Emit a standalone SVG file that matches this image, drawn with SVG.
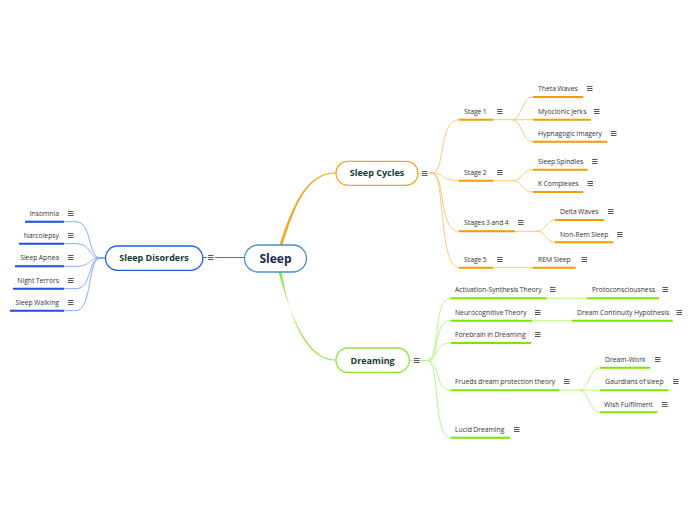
<svg xmlns="http://www.w3.org/2000/svg" xmlns:xlink="http://www.w3.org/1999/xlink" width="696" height="520" viewBox="0 0 696 520">
<style>
.bg{fill:#ffffff}
.t{font-family:"Open Sans","Noto Sans","Liberation Sans",sans-serif;font-size:6.8px;word-spacing:-0.4px;fill:#333333}
.mt{font-family:"Open Sans","Noto Sans","Liberation Sans",sans-serif;font-weight:bold;font-size:9px;fill:#163c33;text-anchor:middle}
.ct{font-family:"Open Sans","Noto Sans","Liberation Sans",sans-serif;font-weight:bold;font-size:12px;fill:#1b2a4e;text-anchor:middle}
.end{text-anchor:end}
.box{fill:#ffffff;stroke-width:1.3}
.ob{stroke:#f5a623}.gb{stroke:#8ee53f}.bb{stroke:#1f5ff0}.cb{stroke:#4a90d0}
.ou{stroke:#f59b00;stroke-width:2;fill:none}
.gu{stroke:#7ce600;stroke-width:2;fill:none}
.bu{stroke:#1d4fe0;stroke-width:2;fill:none}
.oc{stroke:#fcc97a;stroke-width:1;fill:none}
.gc{stroke:#b8f58a;stroke-width:1;fill:none}
.bc{stroke:#86a8ff;stroke-width:1;fill:none}
.ic{stroke:#444444;stroke-width:0.9;fill:none}
</style>
<defs>
<g id="menu"><path class="ic" d="M0 -2h5.5M0 0h5.5M0 2h5.5"/></g>
</defs>
<rect class="bg" x="0" y="0" width="696" height="520"/>
<g id="connectors">
<path d="M279.5 245 C294 200 308 172.6 336 172.6 L336 173.6 C309 173.6 296 201 282.5 245 Z" fill="#f5a623"/>
<path d="M278.5 272 C292 320 308 359.6 336 359.6 L336 360.6 C307 360.6 290 321 281.5 272 Z" fill="#8ee53f"/>
<path d="M245 257.5 H215 M203 257.5 H207" stroke="#3d6ff2" stroke-width="1" fill="none"/>
<path class="oc" d="M418 173.5 H421"/>
<path class="gc" d="M409 360.5 H413"/>
<path class="bc" d="M105 258 H100 C88 258 92 221.7 76 221.7 H64"/>
<path class="bc" d="M105 258 H100 C88 258 92 243.7 76 243.7 H64"/>
<path class="bc" d="M105 258 H100 C88 258 92 266.3 76 266.3 H64"/>
<path class="bc" d="M105 258 H100 C88 258 92 288.7 76 288.7 H64"/>
<path class="bc" d="M105 258 H100 C88 258 92 310.7 76 310.7 H64"/>
<path class="oc" d="M429 173 H432 C446 173 438 119.7 459 119.7"/>
<path class="oc" d="M429 173 H432 C446 173 440 180.7 459 180.7"/>
<path class="oc" d="M429 173 H432 C446 173 438 231.3 459 231.3"/>
<path class="oc" d="M429 173 H432 C446 173 438 267.7 459 267.7"/>
<path class="oc" d="M493 119.7 H512 C522 119.7 522 97 533 97"/>
<path class="oc" d="M512 119.7 H533"/>
<path class="oc" d="M512 119.7 C522 119.7 522 141.7 533 141.7"/>
<path class="oc" d="M493 180.7 H512 C522 180.7 522 169.7 533 169.7"/>
<path class="oc" d="M512 180.7 C522 180.7 522 192 533 192"/>
<path class="oc" d="M515 231.3 H537 C546 231.3 546 220 555 220"/>
<path class="oc" d="M537 231.3 C546 231.3 546 242.3 555 242.3"/>
<path class="oc" d="M493 267.7 H533"/>
<path class="gc" d="M420 360.5 H427 C441 360.5 432 298.3 450.7 298.3"/>
<path class="gc" d="M420 360.5 H427 C441 360.5 432 320.7 450.7 320.7"/>
<path class="gc" d="M420 360.5 H427 C441 360.5 432 343 450.7 343"/>
<path class="gc" d="M420 360.5 H427 C441 360.5 434 390.3 450.7 390.3"/>
<path class="gc" d="M420 360.5 H427 C441 360.5 432 437.7 450.7 437.7"/>
<path class="gc" d="M546.7 298.3 H586.7"/>
<path class="gc" d="M532 320.7 H572"/>
<path class="gc" d="M559.3 390.3 H579 C589 390.3 589 367.7 600 367.7"/>
<path class="gc" d="M579 390.3 H600"/>
<path class="gc" d="M579 390.3 C589 390.3 589 412.3 600 412.3"/>
</g>
<g id="sleep">
<rect class="box cb" x="244.5" y="245" width="62" height="27" rx="13.5"/>
<text class="ct" x="275.5" y="263">Sleep</text>
</g>
<g id="sleep-cycles">
<rect class="box ob" x="336" y="161.3" width="82" height="24" rx="12"/>
<text class="mt" x="377" y="176.3">Sleep Cycles</text>
<use href="#menu" xlink:href="#menu" x="422" y="173.5"/>
</g>
<g id="dreaming">
<rect class="box gb" x="336" y="348" width="73.3" height="24.5" rx="12"/>
<text class="mt" x="372.6" y="363.6">Dreaming</text>
<use href="#menu" xlink:href="#menu" x="414" y="360.5"/>
</g>
<g id="sleep-disorders">
<rect class="box bb" x="105.5" y="246" width="97.3" height="24.3" rx="12"/>
<text class="mt" x="154" y="261.3">Sleep Disorders</text>
<use href="#menu" xlink:href="#menu" x="208" y="257.5"/>
</g>
<g id="insomnia"><text class="t end" x="59" y="215.8">Insomnia</text><use href="#menu" xlink:href="#menu" x="68" y="213.5"/><path class="bu" d="M25 221.7 H64"/></g>
<g id="narcolepsy"><text class="t end" x="59" y="237.5">Narcolepsy</text><use href="#menu" xlink:href="#menu" x="68" y="235.5"/><path class="bu" d="M19 243.7 H64"/></g>
<g id="sleep-apnea"><text class="t end" x="59" y="259.8">Sleep Apnea</text><use href="#menu" xlink:href="#menu" x="68" y="257.5"/><path class="bu" d="M15 266.3 H64"/></g>
<g id="night-terrors"><text class="t end" x="59" y="282.8">Night Terrors</text><use href="#menu" xlink:href="#menu" x="68" y="280.5"/><path class="bu" d="M13 288.7 H64"/></g>
<g id="sleep-walking"><text class="t end" x="59" y="304.8">Sleep Walking</text><use href="#menu" xlink:href="#menu" x="68" y="302.5"/><path class="bu" d="M10 310.7 H64"/></g>
<g id="stage-1"><text class="t" x="464" y="114.2">Stage 1</text><use href="#menu" xlink:href="#menu" x="497" y="111.5"/><path class="ou" d="M459 119.7 H493"/></g>
<g id="theta-waves"><text class="t" x="538" y="90.8">Theta Waves</text><use href="#menu" xlink:href="#menu" x="587" y="88.5"/><path class="ou" d="M533 97 H583.3"/></g>
<g id="myoclonic-jerks"><text class="t" x="538" y="114.2">Myoclonic Jerks</text><use href="#menu" xlink:href="#menu" x="594" y="111.5"/><path class="ou" d="M533 119.7 H590.7"/></g>
<g id="hypnagogic-imagery"><text class="t" x="538" y="135.8">Hypnagogic Imagery</text><use href="#menu" xlink:href="#menu" x="611" y="133.5"/><path class="ou" d="M533 141.7 H607.3"/></g>
<g id="stage-2"><text class="t" x="464" y="175.2">Stage 2</text><use href="#menu" xlink:href="#menu" x="497" y="172.5"/><path class="ou" d="M459 180.7 H493"/></g>
<g id="sleep-spindles"><text class="t" x="538" y="163.8">Sleep Spindles</text><use href="#menu" xlink:href="#menu" x="592" y="161.5"/><path class="ou" d="M533 169.7 H587.7"/></g>
<g id="k-complexes"><text class="t" x="538" y="186.2">K Complexes</text><use href="#menu" xlink:href="#menu" x="587.5" y="183.5"/><path class="ou" d="M533 192 H583.3"/></g>
<g id="stages-3-4"><text class="t" x="464" y="225.2">Stages 3 and 4</text><use href="#menu" xlink:href="#menu" x="518" y="222.5"/><path class="ou" d="M459 231.3 H515"/></g>
<g id="delta-waves"><text class="t" x="560" y="214.2">Delta Waves</text><use href="#menu" xlink:href="#menu" x="608" y="211.5"/><path class="ou" d="M555 220 H604"/></g>
<g id="non-rem-sleep"><text class="t" x="560" y="236.8">Non-Rem Sleep</text><use href="#menu" xlink:href="#menu" x="617" y="234.5"/><path class="ou" d="M555 242.3 H613.3"/></g>
<g id="stage-5"><text class="t" x="464" y="262.2">Stage 5</text><use href="#menu" xlink:href="#menu" x="497" y="259.5"/><path class="ou" d="M459 267.7 H493"/></g>
<g id="rem-sleep"><text class="t" x="538" y="262.2">REM Sleep</text><use href="#menu" xlink:href="#menu" x="581.5" y="259.5"/><path class="ou" d="M533 267.7 H575.7"/></g>
<g id="activation-synthesis"><text class="t" x="455" y="292.2">Activation-Synthesis Theory</text><use href="#menu" xlink:href="#menu" x="550" y="289.5"/><path class="gu" d="M450.7 298.3 H546.7"/></g>
<g id="protoconsciousness"><text class="t" x="592" y="292.2">Protoconsciousness</text><use href="#menu" xlink:href="#menu" x="662.5" y="289.5"/><path class="gu" d="M586.7 298.3 H659"/></g>
<g id="neurocognitive"><text class="t" x="455" y="314.8">Neurocognitive Theory</text><use href="#menu" xlink:href="#menu" x="535" y="312.5"/><path class="gu" d="M450.7 320.7 H532"/></g>
<g id="dream-continuity"><text class="t" x="577" y="314.8">Dream Continuity Hypothesis</text><use href="#menu" xlink:href="#menu" x="676.5" y="312.5"/><path class="gu" d="M572 320.7 H672.7"/></g>
<g id="forebrain"><text class="t" x="455" y="336.8">Forebrain in Dreaming</text><use href="#menu" xlink:href="#menu" x="535" y="334.5"/><path class="gu" d="M450.7 343 H531"/></g>
<g id="frueds"><text class="t" x="455" y="384.2">Frueds dream protection theory</text><use href="#menu" xlink:href="#menu" x="564" y="381.5"/><path class="gu" d="M450.7 390.3 H559.3"/></g>
<g id="dream-work"><text class="t" x="605" y="361.8">Dream-Work</text><use href="#menu" xlink:href="#menu" x="655" y="359.5"/><path class="gu" d="M600 367.7 H650"/></g>
<g id="gaurdians"><text class="t" x="605" y="384.2">Gaurdians of sleep</text><use href="#menu" xlink:href="#menu" x="673" y="381.5"/><path class="gu" d="M600 390.3 H668.7"/></g>
<g id="wish-fulfilment"><text class="t" x="604" y="406.8">Wish Fulfilment</text><use href="#menu" xlink:href="#menu" x="662" y="404.5"/><path class="gu" d="M600 412.3 H657.3"/></g>
<g id="lucid-dreaming"><text class="t" x="455" y="431.8">Lucid Dreaming</text><use href="#menu" xlink:href="#menu" x="514" y="429.5"/><path class="gu" d="M450.7 437.7 H510"/></g>
</svg>
